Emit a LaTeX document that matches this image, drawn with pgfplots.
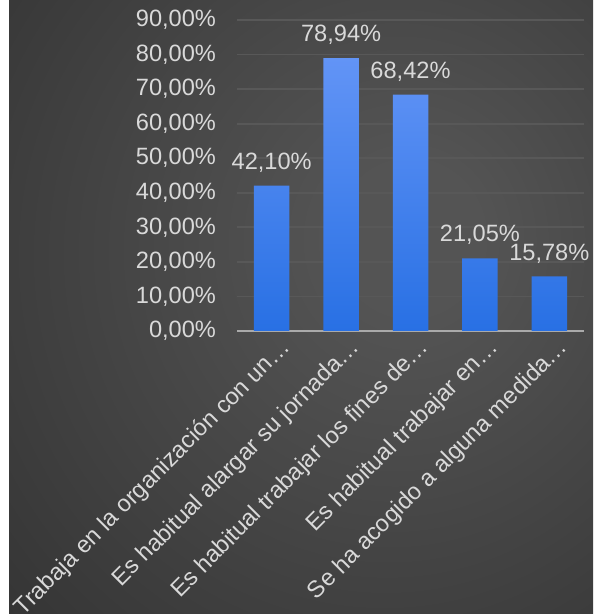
\documentclass[border=0pt]{standalone}
\usepackage{fontspec}
\setmainfont{Liberation Sans}
\usepackage{pgfplots}
\pgfplotsset{compat=1.18}
\definecolor{txt}{RGB}{217,217,217}
\definecolor{gridc}{RGB}{88,88,88}
\definecolor{axisl}{RGB}{170,170,170}
\definecolor{bartop}{RGB}{98,148,246}
\definecolor{barmid}{RGB}{58,134,254}
\definecolor{barbot}{RGB}{40,112,228}
\definecolor{bgin}{RGB}{84,84,84}
\definecolor{bgout}{RGB}{36,36,36}
\pgfdeclareradialshading{bgshade}{\pgfpoint{10bp}{6bp}}{color(0bp)=(bgin); color(6bp)=(bgin); color(62bp)=(bgout); color(100bp)=(bgout)}
\begin{document}
\begin{tikzpicture}
\fill[white] (0pt,0pt) rectangle (296.5pt,307pt);
\shade[shading=bgshade] (4.5pt,0pt) rectangle (296.5pt,307pt);
\begin{axis}[
  at={(118.5pt,141.5pt)}, anchor=south west,
  scale only axis, width=173.5pt, height=155.5pt,
  xmin=-0.5, xmax=4.5, ymin=0, ymax=90,
  axis x line*=bottom, axis y line*=left,
  x axis line style={draw=axisl, line width=1pt, -},
  y axis line style={draw=none},
  major tick length=0pt,
  ytick={0,10,...,90},
  ymajorgrids, grid style={draw=gridc, line width=0.9pt},
  xtick={0,1,2,3,4},
  xticklabels={Trabaja en la organización con un…, Es habitual alargar su jornada…, Es habitual trabajar los fines de…, Es habitual trabajar en…, Se ha acogido a alguna medida…},
  tick label style={font=\fontsize{11.8}{14}\selectfont, text=txt},
  yticklabel={\pgfmathprintnumber[fixed,fixed zerofill,precision=2,use comma,assume math mode=true]{\tick}\%},
  yticklabel style={anchor=east, xshift=-7pt},
  xticklabel style={xshift=3.5pt, yshift=-2.5pt, rotate=45, anchor=north east, inner sep=0pt},
  nodes near coords={\pgfmathprintnumber[fixed,fixed zerofill,precision=2,use comma,assume math mode=true]{\pgfplotspointmeta}\%},
  every node near coord/.append style={font=\fontsize{11.8}{14}\selectfont, text=txt, anchor=south, inner sep=0pt, yshift=6.5pt},
  clip=false,
]
\addplot[ybar, bar width=17.75pt, bar shift=0pt, draw=none, top color=bartop, middle color=barmid, bottom color=barbot]
  coordinates {(0,42.10) (1,78.94) (2,68.42) (3,21.05) (4,15.78)};
\end{axis}
\pgfresetboundingbox
\path (0pt,0pt) rectangle (296.5pt,307pt);
\end{tikzpicture}
\end{document}
